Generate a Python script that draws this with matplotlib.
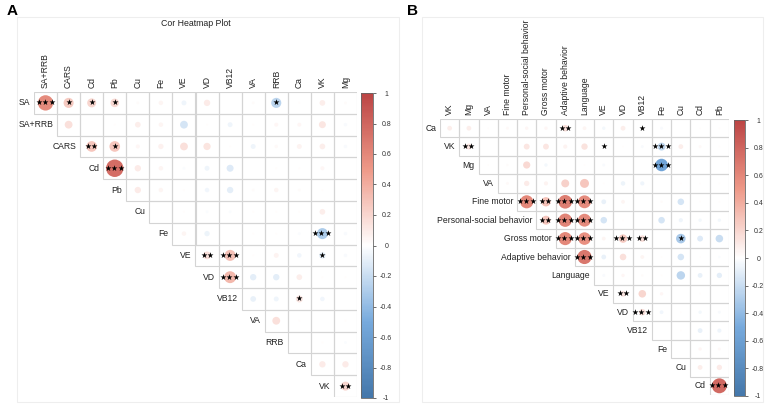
import numpy as np
import matplotlib
matplotlib.use("Agg")
import matplotlib.pyplot as plt
from matplotlib.colors import LinearSegmentedColormap, Normalize
from matplotlib.cm import ScalarMappable
from matplotlib.patches import Rectangle

plt.rcParams['font.family'] = ['Liberation Sans', 'DejaVu Sans']

W, H, DPI = 767, 407, 100

# ---------------- Panel A data ----------------
labels_a = ["SA", "SA+RRB", "CARS", "Cd", "Pb", "Cu", "Fe", "VE", "VD", "VB12",
            "VA", "RRB", "Ca", "VK", "Mg"]
# row i holds correlations of labels_a[i] with labels_a[i+1:]
vals_a = [
    [0.58, 0.25, 0.20, 0.18, 0.02, 0.05, -0.06, 0.10, 0.00, 0.02, -0.25, 0.01, 0.08, 0.02],
    [0.15, 0.00, 0.01, 0.08, 0.05, -0.15, 0.01, -0.06, 0.01, 0.04, 0.04, 0.12, -0.03],
    [0.28, 0.28, 0.04, 0.07, 0.15, 0.13, 0.01, -0.06, 0.03, 0.06, 0.08, -0.03],
    [0.75, 0.10, 0.05, -0.02, -0.06, -0.12, 0.00, 0.01, 0.01, 0.04, 0.00],
    [0.10, 0.05, 0.01, -0.05, -0.10, 0.02, 0.05, 0.02, 0.01, 0.00],
    [0.00, 0.01, -0.02, -0.02, 0.01, 0.01, 0.01, 0.08, 0.00],
    [0.05, -0.07, 0.00, 0.01, 0.01, -0.02, -0.30, -0.03],
    [0.15, 0.30, 0.01, 0.06, -0.05, -0.10, -0.03],
    [0.35, -0.10, -0.10, 0.08, 0.01, 0.01],
    [-0.08, -0.06, 0.12, -0.05, 0.00],
    [0.15, 0.01, 0.00, 0.01],
    [0.00, 0.01, -0.02],
    [0.10, 0.10],
    [0.20],
]
stars_a = [
    [3, 1, 1, 1, 0, 0, 0, 0, 0, 0, 1, 0, 0, 0],
    [0, 0, 0, 0, 0, 0, 0, 0, 0, 0, 0, 0, 0],
    [2, 1, 0, 0, 0, 0, 0, 0, 0, 0, 0, 0],
    [3, 0, 0, 0, 0, 0, 0, 0, 0, 0, 0],
    [0, 0, 0, 0, 0, 0, 0, 0, 0, 0],
    [0, 0, 0, 0, 0, 0, 0, 0, 0],
    [0, 0, 0, 0, 0, 0, 3, 0],
    [2, 3, 0, 0, 0, 1, 0],
    [3, 0, 0, 0, 0, 0],
    [0, 0, 1, 0, 0],
    [0, 0, 0, 0],
    [0, 0, 0],
    [0, 0],
    [2],
]

# ---------------- Panel B data ----------------
labels_b = ["Ca", "VK", "Mg", "VA", "Fine motor", "Personal-social behavior",
            "Gross motor", "Adaptive behavior", "Language", "VE", "VD", "VB12",
            "Fe", "Cu", "Cd", "Pb"]
vals_b = [
    [0.08, 0.08, 0.01, 0.03, 0.04, 0.04, 0.15, 0.05, -0.04, 0.08, 0.03, -0.03, 0.00, 0.01, 0.01],
    [0.12, 0.00, 0.00, 0.12, 0.12, 0.06, 0.14, -0.02, 0.01, -0.03, -0.22, 0.08, 0.03, 0.01],
    [0.01, 0.02, 0.18, -0.04, 0.00, 0.01, -0.03, 0.00, 0.00, -0.55, 0.00, 0.00, 0.00],
    [0.03, 0.10, 0.06, 0.22, 0.28, 0.01, -0.07, -0.06, 0.00, 0.01, 0.01, 0.01],
    [0.60, 0.30, 0.65, 0.58, -0.08, 0.05, 0.00, 0.02, -0.15, 0.01, 0.01],
    [0.28, 0.62, 0.58, -0.15, 0.01, 0.00, -0.15, -0.06, -0.04, -0.04],
    [0.60, 0.55, 0.05, 0.25, 0.15, 0.00, -0.32, -0.12, -0.20],
    [0.70, -0.08, 0.15, 0.05, 0.01, -0.15, 0.01, -0.02],
    [-0.03, 0.04, 0.02, 0.01, -0.25, -0.08, -0.10],
    [0.12, 0.20, 0.04, 0.00, 0.01, 0.00],
    [0.15, -0.05, 0.01, -0.04, -0.03],
    [0.00, 0.01, -0.08, -0.06],
    [0.00, 0.04, 0.03],
    [0.08, 0.10],
    [0.78],
]
stars_b = [
    [0, 0, 0, 0, 0, 0, 2, 0, 0, 0, 1, 0, 0, 0, 0],
    [2, 0, 0, 0, 0, 0, 0, 1, 0, 0, 3, 0, 0, 0],
    [0, 0, 0, 0, 0, 0, 0, 0, 0, 3, 0, 0, 0],
    [0, 0, 0, 0, 0, 0, 0, 0, 0, 0, 0, 0],
    [3, 2, 3, 3, 0, 0, 0, 0, 0, 0, 0],
    [2, 3, 3, 0, 0, 0, 0, 0, 0, 0],
    [3, 3, 0, 3, 2, 0, 1, 0, 0],
    [3, 0, 0, 0, 0, 0, 0, 0],
    [0, 0, 0, 0, 0, 0, 0],
    [2, 0, 0, 0, 0, 0],
    [3, 0, 0, 0, 0],
    [0, 0, 0, 0],
    [0, 0, 0],
    [0, 0],
    [3],
]

cmap = LinearSegmentedColormap.from_list(
    "corr", ["#4477AA", "#77AADD", "#FFFFFF", "#EE9988", "#BB4444"])
norm = Normalize(-1, 1)
GRID = "#d4d4d4"
TXT = "#222222"

fig = plt.figure(figsize=(W / DPI, H / DPI), dpi=DPI)


def px_axes(x0, y0, x1, y1):
    return fig.add_axes([x0 / W, 1 - y1 / H, (x1 - x0) / W, (y1 - y0) / H])


def draw_panel(ax, labels, vals, stars, cellpx, fs, sfs, gap):
    n = len(labels) - 1
    ax.set_xlim(-0.5, n - 0.5)
    ax.set_ylim(n - 0.5, -0.5)
    ax.axis("off")
    xs, ys, cs, ss = [], [], [], []
    for i, (row, srow) in enumerate(zip(vals, stars)):
        for k, (v, s) in enumerate(zip(row, srow)):
            j = i + k
            ax.add_patch(Rectangle((j - 0.5, i - 0.5), 1, 1, fill=False,
                                   ec=GRID, lw=0.8, zorder=1))
            xs.append(j)
            ys.append(i)
            cs.append(v)
            d = 0.9 * np.sqrt(abs(v)) * cellpx * 72 / DPI
            ss.append(d * d)
            if s:
                ax.text(j, i, "\u2605" * s, ha="center", va="center",
                        fontsize=sfs, color="black", zorder=4,
                        family="DejaVu Sans")
    ax.scatter(xs, ys, s=ss, c=cs, cmap=cmap, norm=norm, linewidths=0,
               zorder=2)
    for i in range(n):
        ax.text(i - 0.5 - gap, i, labels[i], ha="right", va="center",
                fontsize=fs, color=TXT, clip_on=False)
        ax.text(i, -0.5 - gap, labels[i + 1], ha="center", va="bottom",
                rotation=90, fontsize=fs, color=TXT, clip_on=False)


def draw_cbar(x0, y0, x1, y1):
    cax = px_axes(x0, y0, x1, y1)
    cb = fig.colorbar(ScalarMappable(norm=norm, cmap=cmap), cax=cax,
                      ticks=np.linspace(-1, 1, 11))
    cb.ax.set_yticklabels(["-1", "-0.8", "-0.6", "-0.4", "-0.2", "0", "0.2",
                           "0.4", "0.6", "0.8", "1"])
    cb.ax.tick_params(labelsize=5, length=2, width=0.5, pad=7.5,
                      colors="#333333")
    for t in cb.ax.get_yticklabels():
        t.set_horizontalalignment("center")
    cb.outline.set_edgecolor("#666666")
    cb.outline.set_linewidth(0.6)


# frames
for (x0, y0, x1, y1) in [(17, 17, 399, 402), (422, 17, 763, 402)]:
    fig.add_artist(Rectangle((x0 / W, 1 - y1 / H), (x1 - x0) / W, (y1 - y0) / H,
                             transform=fig.transFigure, fill=False,
                             ec="#eeeeee", lw=0.8))

axA = px_axes(34, 92, 357, 397)
draw_panel(axA, labels_a, vals_a, stars_a, 22.4, 6.2, 5.6, 0.17)
draw_cbar(361, 93, 373, 398)

axB = px_axes(440, 119, 729, 395)
draw_panel(axB, labels_b, vals_b, stars_b, 18.8, 6.2, 5.6, 0.2)
draw_cbar(734, 120, 745, 396)

fig.text(196 / W, 1 - 24 / H, "Cor Heatmap Plot", ha="center", va="center",
         fontsize=6.3, color=TXT)
fig.text(7 / W, 1 - 11 / H, "A", ha="left", va="center", fontsize=11,
         fontweight="bold")
fig.text(407 / W, 1 - 11 / H, "B", ha="left", va="center", fontsize=11,
         fontweight="bold")

fig.savefig("out.png", dpi=DPI)
